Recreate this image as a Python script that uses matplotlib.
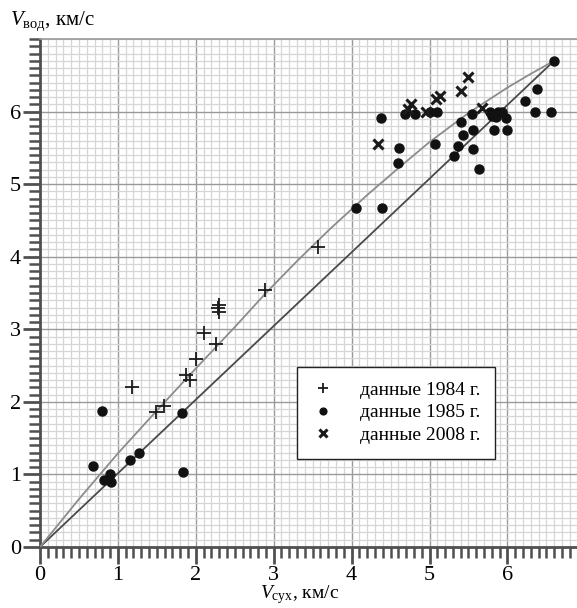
import numpy as np
import matplotlib.pyplot as plt
from matplotlib.ticker import MultipleLocator

plt.rcParams['font.family'] = ['Liberation Serif', 'DejaVu Serif']
plt.rcParams['mathtext.fontset'] = 'custom'
plt.rcParams['mathtext.rm'] = 'Liberation Serif'
plt.rcParams['mathtext.it'] = 'Liberation Serif:italic'

# data 1984 (+)
x84 = [1.18, 1.49, 1.59, 1.87, 1.92, 2.00, 2.11, 2.26, 2.30, 2.29, 2.30, 2.89, 3.57]
y84 = [2.20, 1.86, 1.94, 2.37, 2.30, 2.59, 2.95, 2.80, 3.34, 3.29, 3.24, 3.54, 4.14]

# data 1985 (dots)
x85 = [0.68, 0.79, 0.82, 0.90, 0.91, 1.15, 1.27, 1.82, 1.84,
       4.06, 4.39, 4.38, 4.61, 4.60, 4.69, 4.82, 5.01, 5.09, 5.07,
       5.41, 5.55, 5.43, 5.56, 5.37, 5.31, 5.56, 5.63, 5.78, 5.80,
       5.88, 5.93, 5.86, 5.98, 5.83, 6.00, 6.23, 6.38, 6.35, 6.56, 6.60]
y85 = [1.12, 1.87, 0.92, 1.00, 0.89, 1.20, 1.29, 1.85, 1.04,
       4.67, 4.67, 5.91, 5.50, 5.29, 5.97, 5.97, 6.00, 6.00, 5.56,
       5.85, 5.97, 5.68, 5.75, 5.52, 5.39, 5.48, 5.21, 5.99, 5.94,
       5.99, 6.00, 5.92, 5.91, 5.75, 5.75, 6.15, 6.31, 5.99, 6.00, 6.70]

# data 2008 (x)
x08 = [4.34, 4.76, 4.72, 4.96, 5.08, 5.13, 5.40, 5.50, 5.68]
y08 = [5.55, 6.10, 6.04, 6.00, 6.18, 6.22, 6.29, 6.48, 6.05]

# straight line and curve
line_x = [0.0, 6.60]
line_y = [0.0, 6.70]
curve_x = [0.0, 0.5, 1.0, 1.5, 2.0, 2.5, 2.9, 3.3, 3.72, 4.2, 4.6, 5.0, 5.5, 6.0, 6.3, 6.60]
curve_y = [0.0, 0.66, 1.29, 1.88, 2.46, 3.03, 3.50, 3.94, 4.38, 4.85, 5.22, 5.58, 5.98, 6.33, 6.52, 6.70]

fig = plt.figure(figsize=(5.77, 6.08), dpi=100)
ax = fig.add_axes([40/577, 61/608, 537/577, 508/608])

ax.set_xlim(0, 537/77.9)
ax.set_ylim(0, 7.0)

ax.xaxis.set_major_locator(MultipleLocator(1))
ax.xaxis.set_minor_locator(MultipleLocator(0.1))
ax.yaxis.set_major_locator(MultipleLocator(1))
ax.yaxis.set_minor_locator(MultipleLocator(0.1))

ax.grid(which='minor', color='#d6d6d6', lw=0.9)
ax.grid(which='major', color='#9a9a9a', lw=1.0)
ax.set_axisbelow(True)

ax.spines['right'].set_visible(False)
ax.spines['top'].set_color('#9a9a9a')
ax.spines['top'].set_linewidth(1.2)
for s in ['left', 'bottom']:
    ax.spines[s].set_color('#505050')
    ax.spines[s].set_linewidth(2)

ax.tick_params(which='major', direction='out', length=12, width=2, color='#505050',
               labelsize=16, pad=1.5)
ax.tick_params(which='minor', direction='out', length=8, width=1.8, color='#505050')
ax.set_xticks([0, 1, 2, 3, 4, 5, 6])
ax.set_xticklabels(['0', '1', '2', '3', '4', '5', '6'])
ax.set_yticks([0, 1, 2, 3, 4, 5, 6])
ax.set_yticklabels(['0', '1', '2', '3', '4', '5', '6'])

ax.plot(line_x, line_y, color='#4a4a4a', lw=1.3, zorder=3)
ax.plot(curve_x, curve_y, color='#8c8c8c', lw=1.3, zorder=3)

ax.plot(x84, y84, ls='none', marker='+', ms=10, mew=1.3, color='#1a1a1a',
        zorder=4, label='данные 1984 г.')
ax.plot(x85, y85, ls='none', marker='o', ms=6.5, color='#111111',
        zorder=4, label='данные 1985 г.')
ax.plot(x08, y08, ls='none', marker='x', ms=7.5, mew=2.2, color='#1a1a1a',
        zorder=4, label='данные 2008 г.')

leg = ax.legend(loc='lower left', bbox_to_anchor=(0.46, 0.155), fontsize=14,
                frameon=True, fancybox=False, edgecolor='#222222',
                framealpha=1, handlelength=1.2, handletextpad=1.3,
                borderpad=0.75, labelspacing=0.25, markerscale=0.75)
leg.get_frame().set_linewidth(1.0)

fig.text(10/577, 1 - 25/608, r'$V_{\mathrm{вод}}$, км/с', fontsize=15, ha='left',
         va='baseline')
fig.text(300/577, 1.5/608, r'$V_{\mathrm{сух}}$, км/с', fontsize=14, ha='center',
         va='bottom')

fig.savefig('out.png', dpi=100)
